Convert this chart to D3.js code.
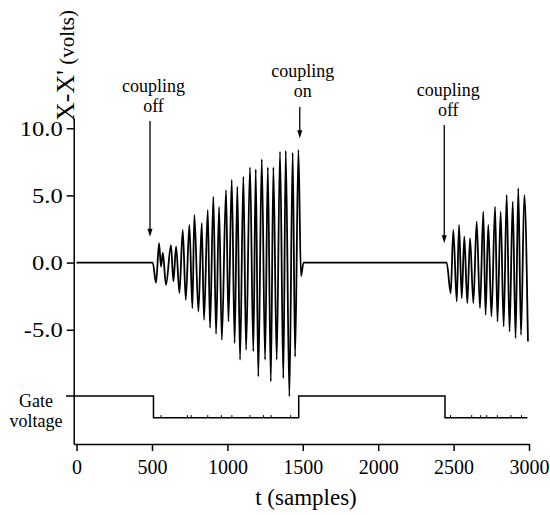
<!DOCTYPE html>
<html><head><meta charset="utf-8">
<script src="https://cdn.jsdelivr.net/npm/d3@7"></script>
<style>
html,body{margin:0;padding:0;background:#fff;}
svg{display:block;}
svg text{font-family:"Liberation Serif","Times New Roman",Times,"DejaVu Serif","Noto Serif",serif !important;}
</style></head>
<body><svg id="c" width="550" height="515"></svg>
<script>
// ---- data ----
const sigT = [0,505,527,547,560,572,593,626,642,660,682,704,724,748,768,781,808,830,845,870,885,907,925,945,963,991,1007,1029,1048,1066,1084,1106,1124,1150,1172,1188,1205,1228,1250,1268,1288,1305,1327,1349,1371,1387,1411,1433,1449,1471,1488,1505,
  2454,2481,2498,2521,2536,2554,2571,2591,2609,2631,2653,2675,2697,2712,2730,2751,2775,2791,2812,2832,2852,2871,2892,2911,2929,2947,2969,2993];
const sigV = [0,0,-1.5,1.44,-0.3,0.72,-1.66,1.3,-1.4,1.2,-2.26,2.43,-2.77,2.8,-3.4,3.55,-3.64,2.93,-4.26,3.92,-4.86,4.9,-5.3,4.14,-5.75,5.4,-4.38,6.15,-6.0,5.65,-7.23,6.4,-6.49,7.09,-6.6,6.94,-8.47,7.69,-7.23,7.09,-8.85,7.09,-7.23,8.25,-8.6,8.33,-9.96,8.18,-7.0,8.38,-1.0,0,
  0,-2.28,2.43,-2.9,2.8,-2.65,1.93,-3.02,1.81,-3.02,3.05,-3.39,3.79,-3.89,2.8,-4.01,4.16,-4.39,3.79,-4.76,5.03,-5.13,4.54,-5.62,5.53,-5.38,5.03,-5.87];
const gateT = [-70,510,510,1473,1473,2443,2443,2990];
const gateState = [1,1,0,0,1,1,0,0];
const gateLevels = [-11.55,-9.93]; // low, high (drawn in the plot's units)
const gateBlipT = [560,735,760,870,960,1030,1150,1240,1290,1420,2480,2620,2680,2720,2790,2880,2950];
const gateBlipH = 0.2;
const yTicks = [-5,0,5,10];
const xTicks = [0,500,1000,1500,2000,2500,3000];
const annT = [487,1480,2438];
const annTip = [1.93,9.25,1.44];
const annLines = [["coupling","off"],["coupling","on"],["coupling","off"]];
const xTitle = "t (samples)";
const yTitleParts = ["X-X'", " (volts)"];
const gateLabel = ["Gate","voltage"];

// ---- layout ----
const svg = d3.select("#c");
const x = d3.scaleLinear().domain([-19,3000]).range([73.7,529]);
const y = d3.scaleLinear().domain([-13.5,10.76]).range([444,118]);

// signal
const sig = sigT.map((t,i)=>[t,sigV[i]]);
svg.append("path").datum(sig)
  .attr("fill","none").attr("stroke","#000").attr("stroke-width",1.8)
  .attr("stroke-linejoin","round")
  .attr("d",d3.line().x(d=>x(d[0])).y(d=>y(d[1])).curve(d3.curveMonotoneX));

// gate
const gate = gateT.map((t,i)=>[t,gateLevels[gateState[i]]]);
svg.append("path").datum(gate)
  .attr("fill","none").attr("stroke","#000").attr("stroke-width",1.5)
  .attr("d",d3.line().x(d=>x(d[0])).y(d=>y(d[1])));
svg.append("g").selectAll("line").data(gateBlipT).join("line")
  .attr("x1",d=>x(d)).attr("x2",d=>x(d))
  .attr("y1",y(gateLevels[0])).attr("y2",y(gateLevels[0]+gateBlipH))
  .attr("stroke","#000").attr("stroke-width",1);

// axes
const yAxis = svg.append("g").attr("transform",`translate(${x.range()[0]},0)`)
  .call(d3.axisLeft(y).tickValues(yTicks).tickFormat(d=>d.toFixed(1)).tickSize(7).tickSizeOuter(0).tickPadding(4));
const xAxis = svg.append("g").attr("transform",`translate(0,${y.range()[0]})`)
  .call(d3.axisBottom(x).tickValues(xTicks).tickFormat(d=>String(d)).tickSize(7).tickSizeOuter(0).tickPadding(9));
[yAxis,xAxis].forEach(g=>{
  g.attr("font-family",null);
  g.selectAll("path,line").attr("stroke","#000").attr("stroke-width",1.5);
  g.selectAll("text").attr("fill","#000");
});
yAxis.selectAll("text").style("font-size","21px").attr("dy","0.34em")
  .each(function(){ const L=this.getComputedTextLength(); d3.select(this).attr("textLength",L*1.17).attr("lengthAdjust","spacingAndGlyphs"); });
xAxis.selectAll("text").style("font-size","20px");

// titles
svg.append("text").attr("x",306).attr("y",505).attr("text-anchor","middle")
  .style("font-size","23px").text(xTitle);
const yt = svg.append("text").attr("transform","translate(74,10) rotate(-90)").attr("text-anchor","end");
yt.append("tspan").style("font-size","26px").text(yTitleParts[0]);
yt.append("tspan").style("font-size","21px").text(yTitleParts[1]);

// gate label
const gl = svg.append("text").attr("text-anchor","middle").style("font-size","18px");
gateLabel.forEach((s,i)=>{
  gl.append("tspan").attr("x",36).attr("y",407+i*20).text(s);
});

// annotations
const annLayout = [{dx:3.5,b:92,tail:121},{dx:3,b:77,tail:107},{dx:4,b:96,tail:125}];
annT.forEach((t,i)=>{
  const ax = x(t), L = annLayout[i], tipY = y(annTip[i]);
  const tx = svg.append("text").attr("text-anchor","middle").style("font-size","18px");
  annLines[i].forEach((s,j)=>{
    tx.append("tspan").attr("x",ax+L.dx).attr("y",L.b+j*20).text(s);
  });
  svg.append("line").attr("x1",ax).attr("x2",ax).attr("y1",L.tail).attr("y2",tipY-6)
    .attr("stroke","#000").attr("stroke-width",1.3);
  svg.append("path").attr("d",`M${ax-2.5},${tipY-8}L${ax+2.5},${tipY-8}L${ax},${tipY}Z`).attr("fill","#000");
});
</script></body></html>
